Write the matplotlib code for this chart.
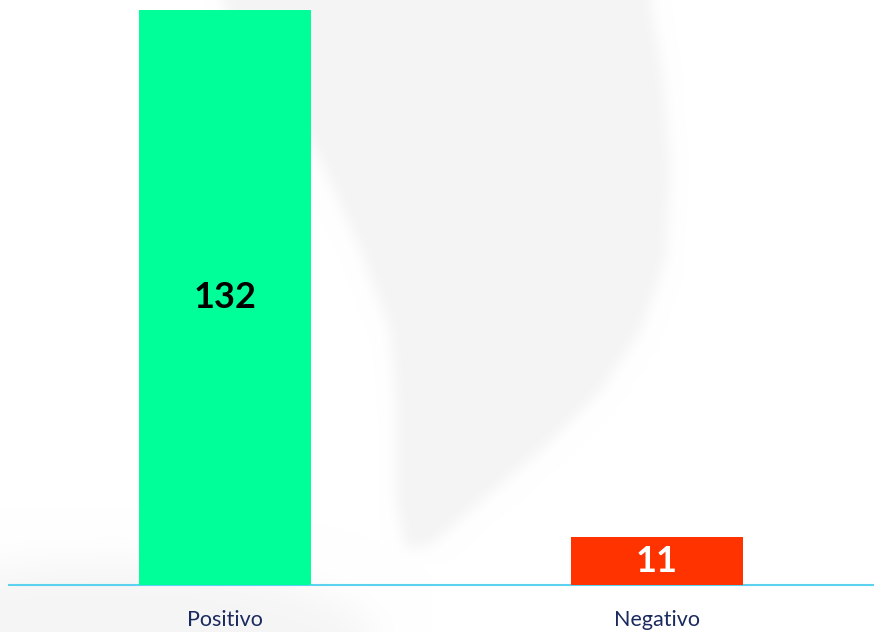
import numpy as np
import matplotlib
matplotlib.use("Agg")
import matplotlib.pyplot as plt
from matplotlib.path import Path

categorias = ["Positivo", "Negativo"]
valores = [132, 11]
colores = ["#00FF99", "#FF3300"]
colores_texto = ["black", "white"]

W, H = 881, 632
fig = plt.figure(figsize=(W / 100, H / 100), dpi=100)

# fondo: marca de agua gris difuminada
yy, xx = np.mgrid[0:H, 0:W]
forma = Path([(205, -30), (645, -30), (663, 80), (670, 170), (665, 260),
              (640, 330), (600, 390), (540, 450), (470, 510), (430, 545),
              (405, 548), (396, 500), (395, 400), (390, 330), (360, 250),
              (320, 160), (285, 95), (240, 35), (205, -30)])
mascara = forma.contains_points(np.c_[xx.ravel(), yy.ravel()]).reshape(H, W).astype(float)


def suavizar(m, r):
    for _ in range(3):
        p = np.pad(m, ((0, 0), (r, r)), mode="edge")
        c = np.cumsum(p, axis=1)
        c = np.concatenate([np.zeros((m.shape[0], 1)), c], axis=1)
        m = (c[:, 2 * r + 1:] - c[:, :-2 * r - 1]) / (2 * r + 1)
        p = np.pad(m, ((r, r), (0, 0)), mode="edge")
        c = np.cumsum(p, axis=0)
        c = np.concatenate([np.zeros((1, m.shape[1])), c], axis=0)
        m = (c[2 * r + 1:, :] - c[:-2 * r - 1, :]) / (2 * r + 1)
    return m


mascara = suavizar(mascara, 6)
# sombra suave abajo a la izquierda
sombra = (((xx - 110) / 280.0) ** 2 + ((yy - 660) / 100.0) ** 2 < 1).astype(float)
sombra = 0.85 * suavizar(sombra, 18)
mascara = np.maximum(mascara, sombra)
gris = 1.0 - mascara * (1.0 - 0xF4 / 255.0)
fondo = fig.add_axes([0, 0, 1, 1], zorder=0)
fondo.imshow(np.dstack([gris, gris, gris]), extent=[0, W, H, 0], aspect="auto")
fondo.axis("off")

ax = fig.add_axes([9 / W, 47 / H, 864 / W, 585 / H], zorder=1)
ax.patch.set_alpha(0)

x = np.arange(len(categorias))
barras = ax.bar(x, valores, width=0.40, color=colores, zorder=2)
for b, v, c in zip(barras, valores, colores_texto):
    ax.text(b.get_x() + b.get_width() / 2, v / 2, str(v), ha="center", va="center",
            fontsize=26, fontweight="bold", family="Lato", color=c, zorder=3)

ax.set_xlim(-0.5, 1.5)
ax.set_ylim(0, 134.3)
ax.set_xticks(x)
ax.set_xticklabels(categorias, fontsize=15.5, family="Lato", color="#1B2A5E")
ax.tick_params(axis="x", length=0, pad=18)
ax.set_yticks([])
for s in ["top", "left", "right"]:
    ax.spines[s].set_visible(False)
ax.spines["bottom"].set_color("#5CD2F0")
ax.spines["bottom"].set_linewidth(1.5)
ax.spines["bottom"].set_zorder(1)

fig.savefig("out.png", dpi=100)
